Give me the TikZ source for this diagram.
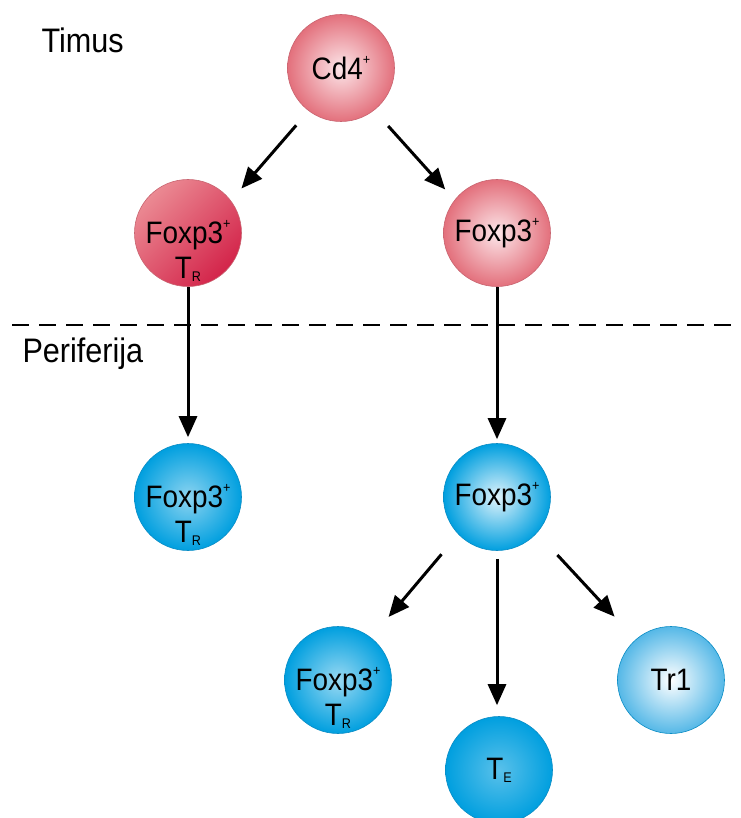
\documentclass[tikz,border=0pt]{standalone}
\usepackage{fontspec}
\setmainfont{Liberation Sans}
\newfontfamily\tallsans{Liberation Sans}[FakeStretch=0.9]
\usetikzlibrary{arrows.meta}
\definecolor{pinkedge}{HTML}{E3707C}
\definecolor{pinkcentre}{HTML}{FCE6E9}
\definecolor{pinkline}{HTML}{C86470}
\definecolor{crimsonA}{HTML}{EB8A93}
\definecolor{crimsonB}{HTML}{D3244A}
\definecolor{blueedge}{HTML}{009FDF}
\definecolor{blueline}{HTML}{0A8CC4}
\definecolor{skyedge}{HTML}{55B8E7}
\newcommand\sgn[1]{\raisebox{.5em}{\fontsize{14}{14}\selectfont #1}}
\newcommand\idx[1]{\raisebox{-3pt}{\fontsize{14}{14}\selectfont #1}}
\newcommand\low[1]{\raisebox{-18pt}[\height][\depth]{#1}}
\begin{document}
\begin{tikzpicture}[x=1pt,y=-1pt,
    cell/.style={circle,minimum size=107pt,inner sep=-6pt,line width=.6pt,align=center,font=\tallsans\fontsize{31}{35}\selectfont},
    redcell/.style={cell,draw=pinkline,inner color=#1,outer color=pinkedge},
    bluecell/.style={cell,draw=blueline,inner color=#1,outer color=blueedge},
    arr/.style={line width=3pt,-{Triangle[length=21pt,width=18pt]}},
    region/.style={font=\tallsans\fontsize{34}{38}\selectfont,anchor=base west}]
  \useasboundingbox (0,0) rectangle (740,818);
  \node[region] (thy) at (38,53) {Timus};
  \node[region] (per) at (19,362) {Periferija};
  \draw[line width=2pt,dash pattern=on 17pt off 10pt] (12,325) -- (745,325);
  \node[redcell=pinkcentre] (cd4) at (341,68) {Cd4\sgn{+}};
  \node[cell,draw=pinkline,top color=crimsonA,bottom color=crimsonB,shading angle=45] (trT) at (188,233) {\low{Foxp3\sgn{+}}\\\low{T\idx{R}}};
  \node[redcell=pinkcentre] (fxT) at (497,233) {Foxp3\sgn{+}};
  \node[bluecell=blueedge!45!white] (trP) at (188,497) {\low{Foxp3\sgn{+}}\\\low{T\idx{R}}};
  \node[bluecell=blueedge!12!white] (fxP) at (497,497) {Foxp3\sgn{+}};
  \node[bluecell=blueedge!40!white] (trB) at (338,680) {\low{Foxp3\sgn{+}}\\\low{T\idx{R}}};
  \node[bluecell=blueedge!65!white] (te) at (499,770) {T\idx{E}};
  \node[cell,draw=blueline,inner color=white,outer color=skyedge] (tr1) at (671,680) {Tr1};
  \draw[arr,shorten <=19pt,shorten >=16pt] (cd4.233) -- (trT.37);
  \draw[arr,shorten <=21pt,shorten >=14pt] (cd4.308) -- (fxT.142);
  \draw[arr,shorten >=6pt] (trT.south) -- (trP.north);
  \draw[arr,shorten >=4pt] (fxT.south) -- (fxP.north);
  \draw[arr,shorten <=26pt,shorten >=27pt] (fxP.224) -- (trB.52);
  \draw[arr,shorten <=8pt,shorten >=11pt] (fxP.south) -- (fxP.south |- te.north);
  \draw[arr,shorten <=30pt,shorten >=31pt] (fxP.318) -- (tr1.131);
\end{tikzpicture}
\end{document}
